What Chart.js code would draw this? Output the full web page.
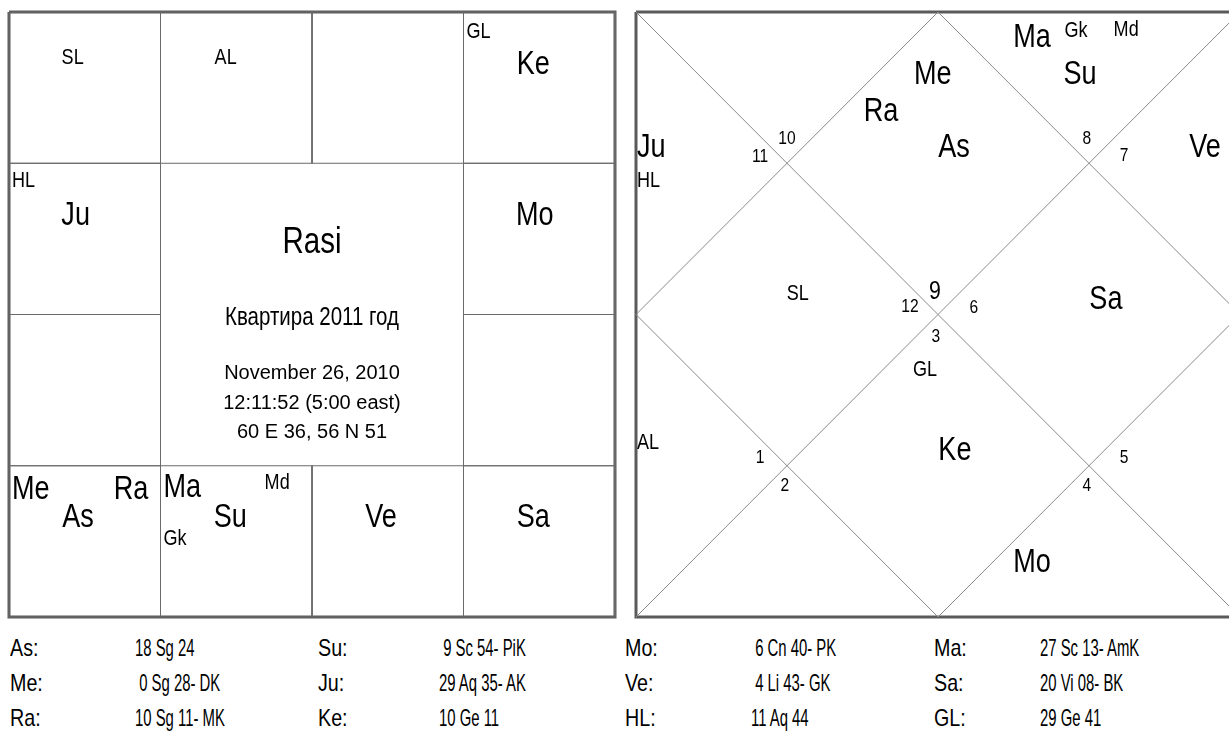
<!DOCTYPE html>
<html>
<head>
<meta charset="utf-8">
<script src="https://cdn.jsdelivr.net/npm/chart.js@4.4.0/dist/chart.umd.min.js"></script>
<style>
html, body { margin:0; padding:0; background:#fff; overflow:hidden; width:1229px; height:731px; position:relative; }
canvas { position:absolute; top:0; }
#rasi { left:0; }
#north { left:620px; }
.t { position:absolute; font-family:'Liberation Sans',Arial,sans-serif; font-size:24px; line-height:1; white-space:pre; color:#000; transform-origin:0 0; }
.l { transform:scaleX(0.82); }
.v { transform:scaleX(0.62); }
</style>
</head>
<body>
<canvas id="rasi" width="624" height="626"></canvas>
<canvas id="north" width="636" height="626"></canvas>
<div id="table"></div>
<script>
// chart data
const signs = ['Ar','Ta','Ge','Cn','Le','Vi','Li','Sc','Sg','Cp','Aq','Pi']
const bodies = ['As','Su','Mo','Ma','Me','Ju','Ve','Sa','Ra','Ke','HL','GL','SL','AL','Gk','Md']
const bodySigns = ['Sg','Sc','Cn','Sc','Sg','Aq','Li','Vi','Sg','Ge','Aq','Ge','Pi','Ar','Sc','Sc']
const smallBodies = ['HL','GL','SL','AL','Gk','Md']

const rowNames = ['As','Me','Ra','Su','Ju','Ke','Mo','Ve','HL','Ma','Sa','GL']
const rowDegrees = [18,0,10,9,29,10,6,4,11,27,20,29]
const rowSigns = ['Sg','Sg','Sg','Sc','Aq','Ge','Cn','Li','Aq','Sc','Vi','Ge']
const rowMinutes = ['24','28','11','54','35','11','40','43','44','13','08','41']
const rowKarakas = ['','DK','MK','PiK','AK','','PK','GK','','AmK','BK','']

const title = 'Rasi'
const subtitle = 'Квартира 2011 год'
const birthLines = ['November 26, 2010','12:11:52 (5:00 east)','60 E 36, 56 N 51']

// layout
const FONT = "'Liberation Sans',Arial,sans-serif"
const NARROW = 0.82   // condensed look of the original labels
const BIG = 33, SMALL = 22

const southCells = {Pi:[0,0],Ar:[1,0],Ta:[2,0],Ge:[3,0],Cn:[3,1],Le:[3,2],Vi:[3,3],Li:[2,3],Sc:[1,3],Sg:[0,3],Cp:[0,2],Aq:[0,1]}
const southSpots = {
  SL:[0.42,0.29], AL:[0.43,0.29], GL:[0.02,0.12,'left'], Ke:[0.46,0.33],
  HL:[0.02,0.105,'left'], Ju:[0.44,0.33], Mo:[0.47,0.33],
  Me:[0.02,0.14,'left'], As:[0.455,0.325], Ra:[0.92,0.14,'right'],
  Ma:[0.02,0.13,'left'], Md:[0.77,0.10], Su:[0.46,0.325], Gk:[0.02,0.47,'left'],
  Ve:[0.455,0.325], Sa:[0.46,0.325]
}
const houseCentre = [[1,0.5],[0.5,0.167],[0.167,0.5],[0.5,1],[0.167,1.5],[0.5,1.833],[1,1.5],[1.5,1.833],[1.833,1.5],[1.5,1],[1.833,0.5],[1.5,0.167]]
const houseVertex = [[1,1],[0.5,0.5],[0.5,0.5],[1,1],[0.5,1.5],[0.5,1.5],[1,1],[1.5,1.5],[1.5,1.5],[1,1],[1.5,0.5],[1.5,0.5]]
const numberShift = [[-0.01,-0.081],[0,-0.087],[-0.089,-0.027],[-0.093,-0.031],[-0.089,-0.032],[-0.007,0.06],[-0.007,0.068],[-0.007,0.06],[0.116,-0.032],[0.119,-0.028],[0.116,-0.031],[-0.007,-0.087]]
const northSpots = {
  Me:[-0.017,-0.302], Ra:[-0.189,-0.179], As:[0.053,-0.06],
  Ju:[-0.164,-0.06,'left'], HL:[-0.164,0.052,'left'], SL:[0.036,-0.074],
  AL:[-0.164,-0.082,'left'], GL:[-0.043,-0.323], Ke:[0.056,-0.059],
  Mo:[-0.189,-0.021], Sa:[0.056,-0.058], Ve:[0.051,-0.06],
  Ma:[-0.189,-0.091], Gk:[-0.043,-0.111], Md:[0.123,-0.114], Su:[-0.03,0.031]
}

function labelPlugin(items)
{
  return {
    id: 'labels',
    afterDatasetsDraw: function(chart){
      const ctx = chart.ctx
      const xs = chart.scales.x
      const ys = chart.scales.y
      items.forEach(function(it){
        const sx = it.wide ? 1 : NARROW
        ctx.save()
        ctx.fillStyle = '#000'
        ctx.textBaseline = 'alphabetic'
        ctx.font = it.size + 'px ' + FONT
        ctx.textAlign = it.align || 'center'
        // y is the middle of the capitals
        ctx.translate(xs.getPixelForValue(it.x), ys.getPixelForValue(it.y) + it.size*0.36)
        ctx.scale(sx, 1)
        ctx.fillText(it.text, 0, 0)
        ctx.restore()
      })
    }
  }
}

function lineSet(points, color, width)
{
  return {
    data: points.map(function(p){ return {x:p[0], y:p[1]} }),
    showLine: true, borderColor: color, borderWidth: width,
    pointRadius: 0, tension: 0, fill: false, clip: false
  }
}

function makeChart(id, max, pad, datasets, items)
{
  return new Chart(document.getElementById(id), {
    type: 'scatter',
    data: { datasets: datasets },
    options: {
      responsive: false, animation: false, events: [],
      layout: { padding: pad },
      plugins: { legend: {display:false}, tooltip: {enabled:false} },
      scales: {
        x: { type:'linear', min:0, max:max, display:false },
        y: { type:'linear', min:0, max:max, reverse:true, display:false }
      }
    },
    plugins: [labelPlugin(items)]
  })
}

// south indian rasi chart
const southSets = []
Object.keys(southCells).forEach(function(s){
  const c = southCells[s]
  southSets.push(lineSet([[c[0],c[1]],[c[0]+1,c[1]],[c[0]+1,c[1]+1],[c[0],c[1]+1],[c[0],c[1]]], '#6a6a6a', 1))
})
southSets.push(lineSet([[0,0],[4,0],[4,4],[0,4],[0,0]], '#5a5a5a', 3))

const southItems = []
bodies.forEach(function(b, i){
  const cell = southCells[bodySigns[i]]
  const spot = southSpots[b]
  southItems.push({ text:b, x:cell[0]+spot[0], y:cell[1]+spot[1], align:spot[2],
    size: smallBodies.indexOf(b) >= 0 ? SMALL : BIG })
})
southItems.push({ text:title, x:2, y:1.507, size:36 })
southItems.push({ text:subtitle, x:2, y:2.01, size:25 })
birthLines.forEach(function(t, i){
  southItems.push({ text:t, x:2, y:2.38 + i*0.195, size:20, wide:true })
})
makeChart('rasi', 4, {left:9, top:12, right:9, bottom:9}, southSets, southItems)

// north indian chart
const northSets = [
  lineSet([[0,0],[2,2]], '#8a8a8a', 1),
  lineSet([[2,0],[0,2]], '#8a8a8a', 1),
  lineSet([[1,0],[2,1],[1,2],[0,1],[1,0]], '#8a8a8a', 1),
  lineSet([[0,0],[2,0],[2,2],[0,2],[0,0]], '#5a5a5a', 3)
]
const lagna = signs.indexOf(bodySigns[bodies.indexOf('As')])
const northItems = []
for (let h = 0; h < 12; h++) {
  const v = houseVertex[h], d = numberShift[h]
  northItems.push({ text:String((lagna + h) % 12 + 1), x:v[0]+d[0], y:v[1]+d[1], size: h === 0 ? 26 : 19 })
}
bodies.forEach(function(b, i){
  const h = (signs.indexOf(bodySigns[i]) - lagna + 12) % 12
  const c = houseCentre[h], spot = northSpots[b]
  northItems.push({ text:b, x:c[0]+spot[0], y:c[1]+spot[1], align:spot[2],
    size: smallBodies.indexOf(b) >= 0 ? SMALL : BIG })
})
makeChart('north', 2, {left:16, top:12, right:16, bottom:9}, northSets, northItems)

// positions table
const table = document.getElementById('table')
const colLabel = [10, 318, 625, 934]
const colValue = [135, 439, 751, 1040]
const rowTop = [636, 671, 706]
rowNames.forEach(function(n, i){
  const col = Math.floor(i/3), row = i % 3
  const deg = rowDegrees[i] < 10 ? ' ' + rowDegrees[i] : String(rowDegrees[i])
  let val = deg + ' ' + rowSigns[i] + ' ' + rowMinutes[i]
  if (rowKarakas[i]) val += '- ' + rowKarakas[i]
  const a = document.createElement('div')
  a.className = 't l'
  a.style.left = colLabel[col] + 'px'
  a.style.top = rowTop[row] + 'px'
  a.textContent = n + ':'
  table.appendChild(a)
  const b = document.createElement('div')
  b.className = 't v'
  b.style.left = colValue[col] + 'px'
  b.style.top = rowTop[row] + 'px'
  b.textContent = val
  table.appendChild(b)
})
</script>
</body>
</html>
